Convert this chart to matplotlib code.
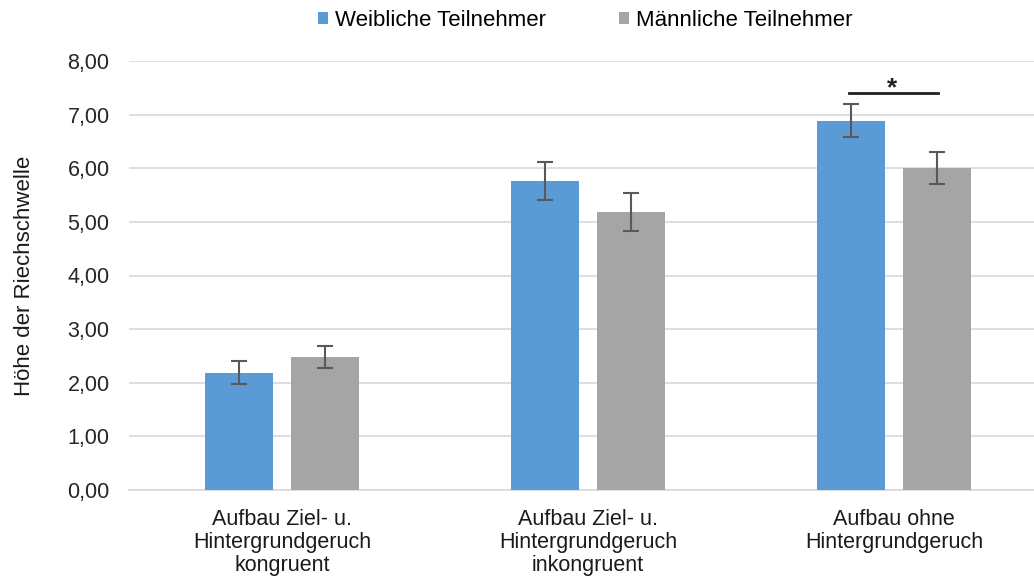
import numpy as np
import matplotlib.pyplot as plt

plt.rcParams['font.family'] = ['Liberation Sans', 'DejaVu Sans']

categories = ["Aufbau Ziel- u.\nHintergrundgeruch\nkongruent",
              "Aufbau Ziel- u.\nHintergrundgeruch\ninkongruent",
              "Aufbau ohne\nHintergrundgeruch"]
weiblich = [2.19, 5.76, 6.89]
weiblich_err = [0.21, 0.36, 0.30]
maennlich = [2.48, 5.18, 6.00]
maennlich_err = [0.21, 0.35, 0.30]
yticks = [0, 1, 2, 3, 4, 5, 6, 7, 8]

blue = "#5B9BD5"
gray = "#A5A5A5"

fig = plt.figure(figsize=(10.34, 5.81), dpi=100)
ax = fig.add_axes([129 / 1034, 91 / 581, 905 / 1034, 429 / 581])

x = np.arange(len(categories))
w = 0.222
off = 0.1405
err_kw = dict(ecolor="#595959", elinewidth=1.5, capsize=6, capthick=1.5)
ax.bar(x - off, weiblich, w, yerr=weiblich_err, color=blue,
       label="Weibliche Teilnehmer", error_kw=err_kw, zorder=3)
ax.bar(x + off, maennlich, w, yerr=maennlich_err, color=gray,
       label="Männliche Teilnehmer", error_kw=err_kw, zorder=3)

ax.set_xlim(-0.5, 2.458)
ax.set_ylim(0, 8)
ax.set_yticks(yticks)
ax.set_yticklabels([f"{v:.2f}".replace(".", ",") for v in yticks], fontsize=15.5, color="#262626")
ax.set_xticks(x)
ax.set_xticklabels(categories, fontsize=15.5, color="#1a1a1a", linespacing=1.1)
ax.tick_params(length=0)
ax.tick_params(axis="y", pad=14)
ax.tick_params(axis="x", pad=14)
ax.grid(axis="y", color="#D9D9D9", linewidth=1.2, zorder=0)
for s in ["top", "right", "left"]:
    ax.spines[s].set_visible(False)
ax.spines["bottom"].set_color("#D9D9D9")
ax.spines["bottom"].set_linewidth(1.2)

ax.set_ylabel("Höhe der Riechschwelle", fontsize=16, color="#1a1a1a")
ax.yaxis.set_label_coords(-0.104, 0.5)

# significance marker over the third group
ax.plot([2 - 0.147, 2 + 0.143], [7.4, 7.4], color="#202020", lw=2, zorder=4)
ax.text(2 - 0.005, 7.26, "*", ha="center", va="bottom", fontsize=19,
        fontweight="bold", color="#202020")

fig.legend(loc="upper center", bbox_to_anchor=(0.566, 1.018), ncol=2, frameon=False,
           fontsize=16, handlelength=0.45, handleheight=0.45, handletextpad=0.3,
           columnspacing=3.3)

fig.savefig("out.png", dpi=100)
